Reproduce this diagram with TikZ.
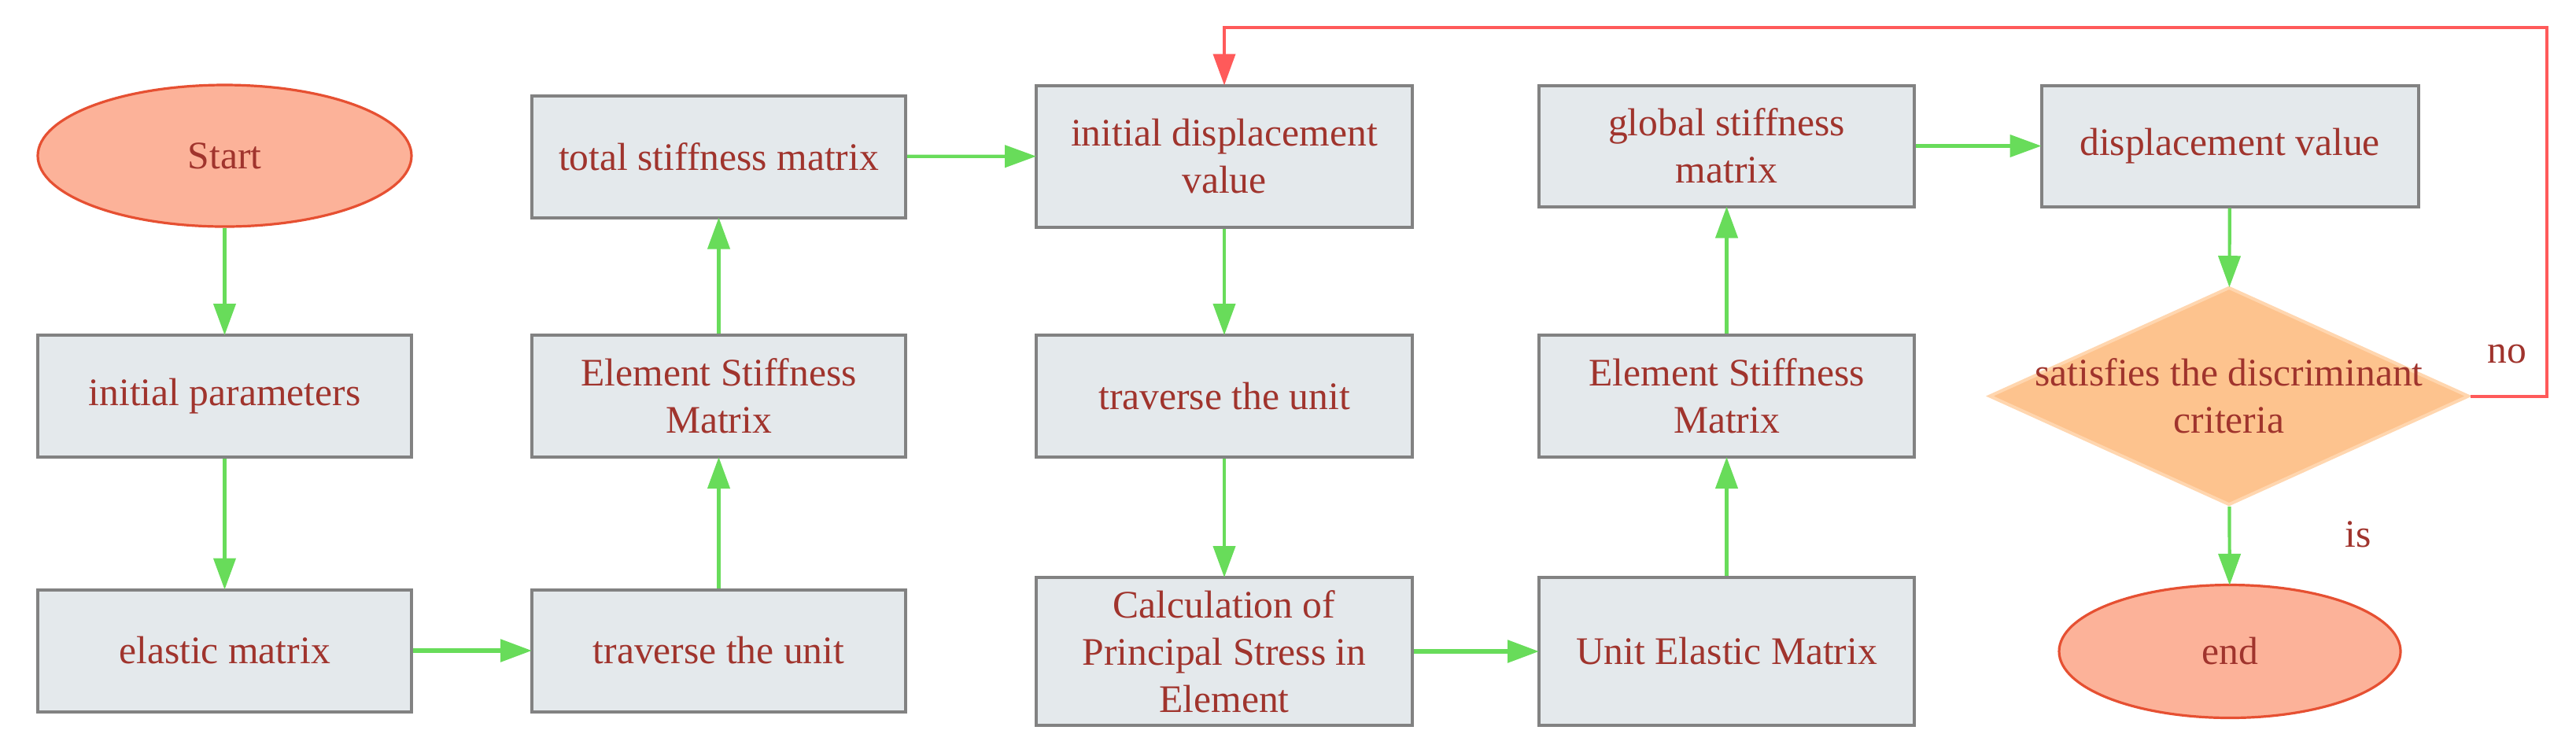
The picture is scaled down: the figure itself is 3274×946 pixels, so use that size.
\documentclass[tikz,border=0pt]{standalone}
\usepackage{fontspec}
\setmainfont{Liberation Serif}
\usetikzlibrary{shapes.geometric,arrows.meta}
\definecolor{txtc}{RGB}{160,52,45}
\definecolor{boxfill}{RGB}{228,233,236}
\definecolor{boxdraw}{RGB}{130,130,130}
\definecolor{ellfill}{RGB}{252,178,153}
\definecolor{elldraw}{RGB}{230,80,50}
\definecolor{diafill}{RGB}{253,195,142}
\definecolor{diadraw}{RGB}{255,214,175}
\definecolor{grn}{RGB}{104,220,90}
\definecolor{redl}{RGB}{255,90,90}
\begin{document}
\begin{tikzpicture}[x=0.25pt,y=-0.25pt,
  txt/.style={text=txtc,font=\fontsize{12.4}{15}\selectfont,align=center},
  box/.style={txt,rectangle,draw=boxdraw,fill=boxfill,line width=1pt,inner sep=0pt,minimum width=118.75pt,minimum height=38.75pt},
  term/.style={txt,ellipse,draw=elldraw,fill=ellfill,line width=0.8pt,inner sep=0pt},
  decis/.style={diamond,draw=diadraw,fill=diafill,line width=1pt,inner sep=0pt,minimum width=152.5pt,minimum height=69.25pt},
  garrow/.style={draw=grn,line width=1.05pt,-{Triangle[length=10pt,width=7pt]},shorten >=-0.5pt},
  garrowthick/.style={garrow,line width=1.4pt},
  rarrow/.style={draw=redl,line width=1pt,-{Triangle[length=10pt,width=7pt]},shorten >=-0.5pt}
]
\useasboundingbox (0,0) rectangle (3274,946);
% column 1
\node[term,minimum width=118.75pt,minimum height=45pt] (start) at (285.5,198) {Start};
\node[box] (ip) at (285.5,503.5) {initial parameters};
\node[box] (em) at (285.5,827) {elastic matrix};
% column 2
\node[box] (tsm) at (913.5,199) {total stiffness matrix};
\node[box] (esma) at (913.5,503.5) {Element Stiffness\\Matrix};
\node[box] (tua) at (913.5,827) {traverse the unit};
% column 3
\node[box,minimum width=119.5pt,minimum height=45pt] (idv) at (1556,198.5) {initial displacement\\value};
\node[box,minimum width=119.5pt] (tub) at (1556,503.5) {traverse the unit};
\node[box,minimum width=119.5pt,minimum height=47pt] (calc) at (1556,828) {Calculation of\\Principal Stress in\\Element};
% column 4
\node[box,minimum width=119.25pt,minimum height=38.5pt] (gsm) at (2194.5,185.5) {global stiffness\\matrix};
\node[box,minimum width=119.25pt] (esmb) at (2194.5,503.5) {Element Stiffness\\Matrix};
\node[box,minimum width=119.25pt,minimum height=47pt] (uem) at (2194.5,828) {Unit Elastic Matrix};
% column 5
\node[box,minimum width=119.75pt,minimum height=38.5pt] (dv) at (2834,185.5) {displacement value};
\node[decis,label={[txt]center:{satisfies the discriminant\\criteria}}] (dia) at (2833,503.5) {};
\node[term,minimum width=108.5pt,minimum height=42.25pt] (end) at (2834,828) {end};
% labels
\node[txt] (no) at (3186,450) {no};
\node[txt] (is) at (2997,679) {is};
% connectors
\draw[garrow] (start) -- (ip);
\draw[garrow] (ip) -- (em);
\draw[garrowthick] (em) -- (tua);
\draw[garrow] (tua) -- (esma);
\draw[garrow] (esma) -- (tsm);
\draw[garrow] (tsm) -- (idv);
\draw[garrow] (idv) -- (tub);
\draw[garrow] (tub) -- (calc);
\draw[garrowthick] (calc) -- (uem);
\draw[garrow] (uem) -- (esmb);
\draw[garrow] (esmb) -- (gsm);
\draw[garrow] (gsm) -- (dv);
\draw[garrow] (dv) -- (dia);
\draw[garrow] (dia) -- (end);
\coordinate (loop) at (3237,35);
\draw[rarrow] (dia.east) -| (loop) -| (idv.north);
\end{tikzpicture}
\end{document}
